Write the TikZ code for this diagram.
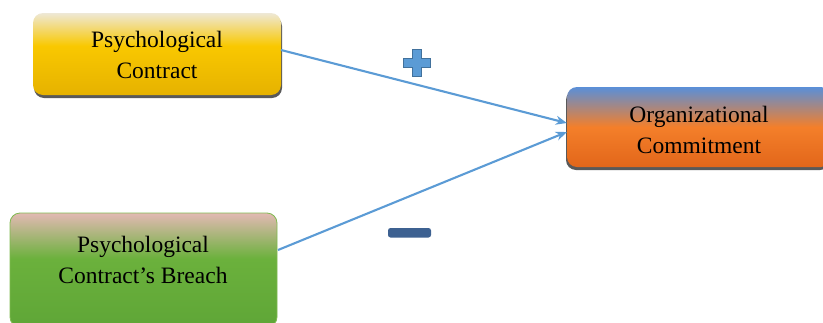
\documentclass[tikz,border=0pt]{standalone}
\usepackage{fontspec}
\setmainfont{Liberation Serif}
\usetikzlibrary{shadows,arrows.meta}
\definecolor{linkblue}{HTML}{5B9BD5}
\definecolor{plusedge}{HTML}{41719C}
\definecolor{minusfill}{HTML}{3D6191}
\definecolor{gA}{HTML}{EEE8D6}
\definecolor{gB}{HTML}{F9C800}
\definecolor{gC}{HTML}{E6B200}
\definecolor{oA}{HTML}{5A8FD8}
\definecolor{oB}{HTML}{F47F2A}
\definecolor{oC}{HTML}{E2661A}
\definecolor{vA}{HTML}{E2B9B3}
\definecolor{vB}{HTML}{6BB13C}
\definecolor{vC}{HTML}{5FA637}
\definecolor{vE}{HTML}{7FBA50}
\pgfdeclareverticalshading{goldshade}{100bp}{color(0bp)=(gC); color(25bp)=(gC); color(55bp)=(gB); color(75bp)=(gA); color(100bp)=(gA)}
\pgfdeclareverticalshading{orangeshade}{100bp}{color(0bp)=(oC); color(25bp)=(oC); color(50bp)=(oB); color(75bp)=(oA); color(100bp)=(oA)}
\pgfdeclareverticalshading{greenshade}{100bp}{color(0bp)=(vC); color(25bp)=(vC); color(55bp)=(vB); color(75bp)=(vA); color(100bp)=(vA)}
\tikzset{
  box/.style={rounded corners=10pt, inner sep=0pt, align=center,
    font=\fontsize{23.5}{31}\selectfont},
  link/.style={draw=linkblue, line width=2.1pt, -{Stealth[length=11pt,width=9pt]}},
  txt/.style={align=center, font=\fontsize{23.5}{31}\selectfont, inner sep=0pt}
}
\begin{document}
\begin{tikzpicture}[x=1pt,y=-1pt]
\useasboundingbox (0,0) rectangle (823,322);
\clip (0,0) rectangle (823,322);
\node[box, minimum width=248pt, minimum height=82pt, shading=goldshade,
  drop shadow={shadow xshift=1pt, shadow yshift=-3pt, fill=black!65, opacity=1}]
  (b1) at (157,54) {};
\node[txt] (t1) at (157,55) {Psychological\\Contract};
\node[box, minimum width=264pt, minimum height=80pt, shading=orangeshade,
  drop shadow={shadow xshift=-1pt, shadow yshift=-3pt, fill=black!65, opacity=1}]
  (b2) at (699,127) {};
\node[txt] (t2) at (699,130) {Organizational\\Commitment};
\node[box, minimum width=267pt, minimum height=114pt, shading=greenshade,
  draw=vE, line width=0.8pt] (b3) at (143.5,270) {};
\node[txt] (t3) at (143,260) {Psychological\\Contract’s Breach};
\coordinate (s1) at (281,50);
\coordinate (s2) at (278,250);
\draw[link] (s1) -- ([yshift=4pt]b2.west);
\draw[link] (s2) -- ([yshift=-5pt]b2.west);
\path[fill=linkblue, draw=plusedge, line width=1.5pt]
  (412.5,49.5) -- (421.5,49.5) -- (421.5,58.5) -- (430.5,58.5) -- (430.5,67.5)
  -- (421.5,67.5) -- (421.5,76.5) -- (412.5,76.5) -- (412.5,67.5) -- (403.5,67.5)
  -- (403.5,58.5) -- (412.5,58.5) -- cycle;
\path[fill=minusfill, rounded corners=2.5pt] (388,228) rectangle (431,237.5);
\end{tikzpicture}
\end{document}
